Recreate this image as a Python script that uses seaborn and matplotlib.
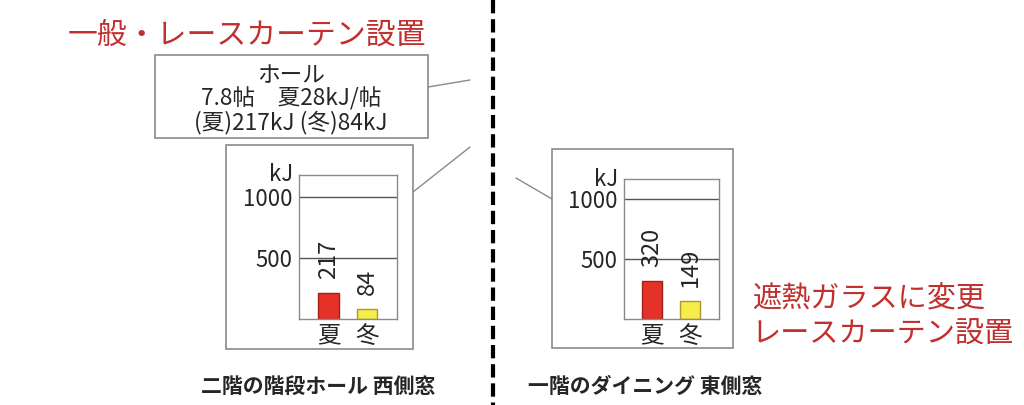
import matplotlib.pyplot as plt
import seaborn as sns
import pandas as pd
from matplotlib.patches import Rectangle
from matplotlib.lines import Line2D

# データ
seasons = ["夏", "冬"]
hall_values = [217, 84]
dining_values = [320, 149]
ytick_values = [500, 1000]
ytick_labels = ["500", "1000"]
bar_colors = ["#e53228", "#f7ec4a"]
bar_edges = ["#a02018", "#a89a30"]

title_left = "一般・レースカーテン設置"
info_lines = ["ホール", "7.8帖　夏28kJ/帖", "(夏)217kJ (冬)84kJ"]
note_right = "遮熱ガラスに変更\nレースカーテン設置"
caption_left = "二階の階段ホール 西側窓"
caption_right = "一階のダイニング 東側窓"

sns.set_style("white")
plt.rcParams["font.family"] = ["Noto Sans CJK JP", "DejaVu Sans"]

W, H = 1024, 405
fig = plt.figure(figsize=(W / 100, H / 100), dpi=100)


def fx(x):
    return x / W


def fy(y):
    return 1 - y / H


def box(x0, y0, x1, y1, color="#8a8a8a", lw=1.2):
    fig.patches.append(Rectangle((fx(x0), fy(y1)), fx(x1) - fx(x0), fy(y0) - fy(y1),
                                 transform=fig.transFigure, fill=False,
                                 edgecolor=color, linewidth=lw))


def line(x0, y0, x1, y1, **kw):
    fig.lines.append(Line2D([fx(x0), fx(x1)], [fy(y0), fy(y1)],
                            transform=fig.transFigure, **kw))


def draw_chart(rect, values, ymax, xlim):
    ax = fig.add_axes(rect)
    df = pd.DataFrame({"季節": seasons, "kJ": values})
    sns.barplot(ax=ax, data=df, x="季節", y="kJ", hue="季節", saturation=1,
                palette=bar_colors, width=0.52, legend=False, linewidth=1)
    for patch, ec in zip(ax.patches, bar_edges):
        patch.set_edgecolor(ec)
    for i, v in enumerate(values):
        ax.annotate(str(v), (i, v), xytext=(0, 14), textcoords="offset pixels",
                    rotation=90, ha="center", va="bottom", fontsize=17)
    ax.set_ylim(0, ymax)
    ax.set_xlim(*xlim)
    ax.set_yticks(ytick_values)
    ax.set_yticklabels(ytick_labels, fontsize=16)
    ax.tick_params(axis="x", labelsize=17, length=0, pad=4)
    ax.tick_params(axis="y", length=0, pad=5)
    for y in ytick_values:
        ax.axhline(y, color="#555555", linewidth=1, zorder=0)
    for s in ax.spines.values():
        s.set_color("#8a8a8a")
        s.set_linewidth(1)
    ax.set_xlabel("")
    ax.set_ylabel("")
    ax.text(-0.06, 1.0, "kJ", transform=ax.transAxes, ha="right", va="center", fontsize=16)
    return ax


# 左側: ホール
box(226, 145, 413, 349)
draw_chart([fx(299), fy(319), fx(397) - fx(299), fy(175) - fy(319)],
           hall_values, 1180, (-0.766, 1.779))

# 右側: ダイニング
box(552, 149, 733, 348)
draw_chart([fx(624), fy(319), fx(719) - fx(624), fy(179) - fy(319)],
           dining_values, 1167, (-0.737, 1.763))

# 情報ボックス
box(155, 55, 428, 138)
for text, y in zip(info_lines, [76, 99, 122]):
    fig.text(fx(291), fy(y), text, ha="center", va="center", fontsize=16.3)

# 引き出し線
line(428, 87, 470, 80, color="#8a8a8a", linewidth=1)
line(413, 192, 470, 147, color="#8a8a8a", linewidth=1)
line(516, 178, 552, 199, color="#8a8a8a", linewidth=1)

# 区切り線
line(493, 0, 493, 405, color="black", linewidth=3, linestyle=(0, (3.2, 1.4)))

# 見出し
fig.text(fx(68), fy(35), title_left, ha="left", va="center",
         fontsize=21.5, color="#c0302e")
fig.text(fx(752), fy(317), note_right, ha="left", va="center",
         fontsize=21, color="#c0302e", linespacing=1.2)

fig.text(fx(318), fy(386), caption_left, ha="center", va="center",
         fontsize=15, fontweight="bold")
fig.text(fx(645), fy(386), caption_right, ha="center", va="center",
         fontsize=15, fontweight="bold")

fig.savefig("out.png", dpi=100)
